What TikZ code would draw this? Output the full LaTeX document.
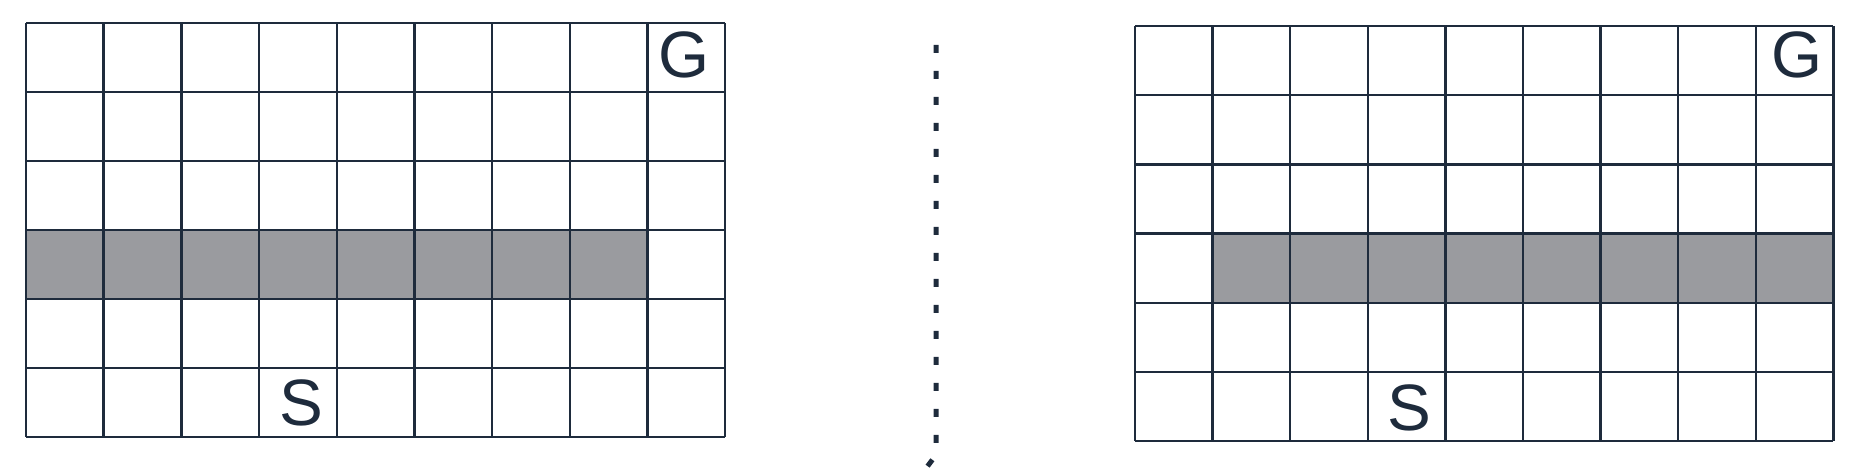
\documentclass[tikz,border=0pt]{standalone}
\usepackage{fontspec}
\setmainfont{Liberation Sans}
\usetikzlibrary{positioning}
\definecolor{gridink}{HTML}{1E2B3C}
\definecolor{wallgray}{HTML}{9A9B9F}
\tikzset{
  cellline/.style={draw=gridink, line width=0.6pt},
  wallrow/.style={fill=wallgray},
  marker/.style={text=gridink, font=\fontsize{16.4}{17}\selectfont, inner sep=0pt},
  sepline/.style={draw=gridink, line width=1.25pt, dash pattern=on 2pt off 4.5pt}
}

\begin{document}
\begin{tikzpicture}[x=0.25pt, y=-0.25pt]
        \useasboundingbox (0,0) rectangle (1868,468);
        % left grid: wall row open on the right
        \begin{scope}[xshift=6.5pt, yshift=-5.75pt, x=19.42pt, y=-17.25pt]
            \fill[wallrow] (0,3) rectangle (8,4);
            \foreach \i in {0,...,9} \draw[cellline] (\i,0) -- (\i,6);
            \foreach \j in {0,...,6} \draw[cellline] (0,\j) -- (9,\j);
            \node[marker] (goalL) at (8.47,0.47) {G};
            \node[marker] (startL) at (3.55,5.51) {S};
        \end{scope}
        % separator
        \coordinate (sepTop) at (936,45);
        \coordinate (sepBend) at (936,455);
        \draw[sepline] (sepTop) -- (sepBend) -- ++(-9,12);
        % right grid: wall row open on the left
        \begin{scope}[xshift=283.75pt, yshift=-6.5pt, x=19.4pt, y=-17.3pt]
            \fill[wallrow] (1,3) rectangle (9,4);
            \foreach \i in {0,...,9} \draw[cellline] (\i,0) -- (\i,6);
            \foreach \j in {0,...,6} \draw[cellline] (0,\j) -- (9,\j);
            \node[marker] (goalR) at (8.53,0.42) {G};
            \node[marker] (startR) at (3.53,5.52) {S};
        \end{scope}
\end{tikzpicture}
\end{document}
